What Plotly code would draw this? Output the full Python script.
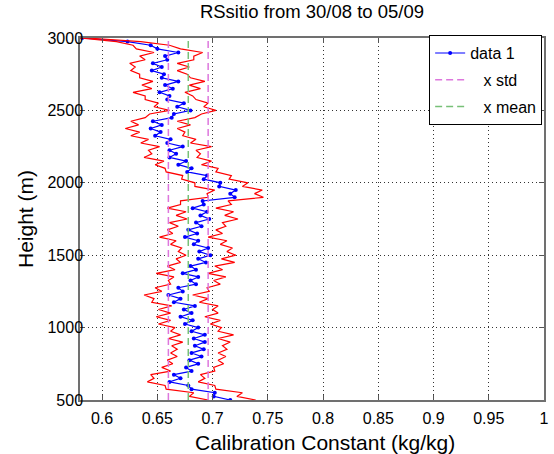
import plotly.graph_objects as go

# Heights (m), bottom to top, 25 m steps
heights = list(range(500, 3001, 25))

# Calibration constant profile (kg/kg)
cal_const = [
    0.716, 0.701, 0.702, 0.681, 0.678, 0.661, 0.671, 0.665, 0.681, 0.676,
    0.687, 0.679, 0.690, 0.681, 0.692, 0.684, 0.693, 0.683, 0.693, 0.681,
    0.687, 0.675, 0.682, 0.671, 0.681, 0.674, 0.684, 0.665, 0.671, 0.660,
    0.673, 0.669, 0.685, 0.680, 0.687, 0.673, 0.685, 0.680, 0.694, 0.687,
    0.698, 0.688, 0.696, 0.683, 0.687, 0.675, 0.686, 0.678, 0.690, 0.685,
    0.697, 0.689, 0.695, 0.682, 0.692, 0.691, 0.720, 0.716, 0.721, 0.706,
    0.707, 0.692, 0.695, 0.677, 0.681, 0.669, 0.676, 0.661, 0.667, 0.661,
    0.673, 0.659, 0.662, 0.648, 0.653, 0.644, 0.654, 0.646, 0.663, 0.665,
    0.680, 0.668, 0.674, 0.659, 0.661, 0.652, 0.664, 0.657, 0.669, 0.654,
    0.656, 0.645, 0.654, 0.646, 0.659, 0.657, 0.669, 0.650, 0.644, 0.623,
    0.582,
]

# Distance of the lower / upper red envelope from the profile (kg/kg)
lower_offset = [
    0.020, 0.022, 0.019, 0.023, 0.021, 0.020, 0.024, 0.021, 0.019, 0.022,
    0.023, 0.020, 0.022, 0.019, 0.024, 0.021, 0.020, 0.023, 0.022, 0.019,
    0.021, 0.024, 0.020, 0.022, 0.019, 0.023, 0.021, 0.020, 0.024, 0.022,
    0.019, 0.021, 0.023, 0.020, 0.022, 0.024, 0.019, 0.021, 0.023, 0.020,
    0.022, 0.019, 0.024, 0.021, 0.020, 0.023, 0.022, 0.019, 0.021, 0.024,
    0.020, 0.022, 0.019, 0.023, 0.021, 0.020, 0.024, 0.021, 0.019, 0.022,
    0.023, 0.020, 0.022, 0.019, 0.024, 0.021, 0.020, 0.023, 0.022, 0.019,
    0.021, 0.024, 0.020, 0.022, 0.019, 0.023, 0.021, 0.020, 0.024, 0.022,
    0.019, 0.021, 0.023, 0.020, 0.022, 0.024, 0.019, 0.021, 0.023, 0.020,
    0.022, 0.019, 0.024, 0.021, 0.020, 0.023, 0.022, 0.019, 0.016, 0.010,
    0.002,
]
upper_offset = [
    0.023, 0.021, 0.025, 0.022, 0.024, 0.026, 0.022, 0.024, 0.021, 0.025,
    0.023, 0.026, 0.022, 0.024, 0.021, 0.025, 0.023, 0.022, 0.026, 0.024,
    0.021, 0.023, 0.025, 0.022, 0.024, 0.026, 0.021, 0.023, 0.025, 0.022,
    0.024, 0.026, 0.022, 0.021, 0.025, 0.023, 0.024, 0.022, 0.026, 0.021,
    0.023, 0.025, 0.022, 0.024, 0.026, 0.021, 0.023, 0.025, 0.022, 0.024,
    0.026, 0.022, 0.024, 0.021, 0.025, 0.023, 0.026, 0.022, 0.024, 0.021,
    0.025, 0.023, 0.022, 0.026, 0.024, 0.021, 0.023, 0.025, 0.022, 0.024,
    0.026, 0.021, 0.023, 0.025, 0.022, 0.024, 0.026, 0.022, 0.021, 0.025,
    0.023, 0.024, 0.022, 0.026, 0.021, 0.023, 0.025, 0.022, 0.024, 0.026,
    0.021, 0.023, 0.025, 0.022, 0.024, 0.026, 0.022, 0.021, 0.017, 0.012,
    0.004,
]

std_bounds = [0.660, 0.696]
mean_value = 0.678
height_span = [500, 3000]

x_tickvals = [0.6, 0.65, 0.7, 0.75, 0.8, 0.85, 0.9, 0.95, 1.0]
x_ticktext = ["0.6", "0.65", "0.7", "0.75", "0.8", "0.85", "0.9", "0.95", "1"]
y_tickvals = [500, 1000, 1500, 2000, 2500, 3000]

lower_env = [c - o for c, o in zip(cal_const, lower_offset)]
upper_env = [c + o for c, o in zip(cal_const, upper_offset)]

FONT = "Liberation Sans, Arial, Helvetica, sans-serif"

fig = go.Figure()

fig.add_trace(go.Scatter(
    x=cal_const, y=heights, mode="lines+markers", name="data 1",
    line=dict(color="#0000ff", width=1.2),
    marker=dict(color="#0000ff", size=4, symbol="circle"),
    legendgroup="a",
))
for env in (lower_env, upper_env):
    fig.add_trace(go.Scatter(
        x=env, y=heights, mode="lines", showlegend=False,
        line=dict(color="#ff0000", width=1.2),
        hoverinfo="skip",
    ))
for i, v in enumerate(std_bounds):
    fig.add_trace(go.Scatter(
        x=[v, v], y=height_span, mode="lines",
        name="\u00a0\u00a0\u00a0x std", showlegend=(i == 0), legendgroup="b",
        line=dict(color="#dd77dd", width=1.5, dash="7px,4px"),
    ))
fig.add_trace(go.Scatter(
    x=[mean_value, mean_value], y=height_span, mode="lines",
    name="\u00a0\u00a0\u00a0x mean", legendgroup="c",
    line=dict(color="#77c077", width=1.5, dash="7px,4px"),
))

axis_common = dict(
    showline=True, linecolor="#707070", linewidth=1.5, mirror="ticks",
    ticks="inside", ticklen=5, tickcolor="#555555",
    showgrid=True, gridcolor="#333333", griddash="1px,3px", gridwidth=1,
    zeroline=False,
    tickfont=dict(family=FONT, size=16, color="black"),
)

fig.update_xaxes(
    range=[0.58, 1.0], tickvals=x_tickvals, ticktext=x_ticktext,
    ticklabelstandoff=3,
    **axis_common,
)
fig.update_yaxes(
    range=[500, 3000], tickvals=y_tickvals,
    ticklabelstandoff=-8,
    title=dict(text="Height (m)",
               font=dict(family=FONT, size=21, color="black"), standoff=8),
    **axis_common,
)

fig.add_annotation(
    text="Calibration Constant (kg/kg)", xref="paper", yref="paper",
    x=0.527, y=-0.118, xanchor="center", yanchor="middle", showarrow=False,
    font=dict(family=FONT, size=21, color="black"),
)

fig.update_layout(
    width=554, height=454,
    margin=dict(l=80, r=5, t=38, b=54),
    paper_bgcolor="white", plot_bgcolor="white",
    title=dict(text="RSsitio from 30/08 to 05/09", x=0.5, xref="paper",
               xanchor="center", y=0.9736, yanchor="middle",
               font=dict(family=FONT, size=18.5, color="black")),
    legend=dict(
        x=0.996, y=1.008, xanchor="right", yanchor="top",
        bgcolor="white", bordercolor="black", borderwidth=1,
        font=dict(family=FONT, size=16, color="black"),
        tracegroupgap=3, itemwidth=30,
    ),
    showlegend=True,
)

fig.write_html("out.html", config={"displayModeBar": False},
               post_script="document.body.style.margin='0px';")
